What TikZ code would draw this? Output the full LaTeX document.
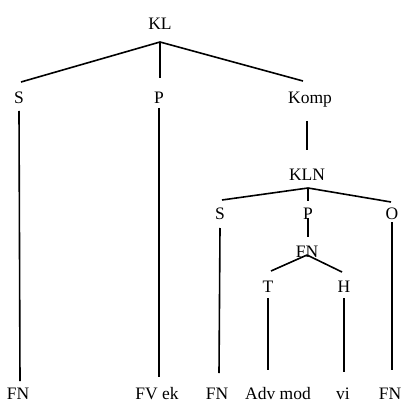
\documentclass[tikz,border=0pt]{standalone}
\usepackage{fontspec}
\setmainfont{Liberation Serif}
\begin{document}
\begin{tikzpicture}[x=1pt,y=-1pt,
  lab/.style={anchor=base,inner sep=0pt,font=\fontsize{17.5}{19}\selectfont},
  br/.style={line width=1.6pt}]
\useasboundingbox (0,0) rectangle (402,403);
% labels
\node[lab] (kl) at (160,30) {KL};
\node[lab] (s1) at (19,104) {S};
\node[lab] (p1) at (159,104) {P};
\node[lab] (komp) at (310,104) {Komp};
\node[lab] (kln) at (307,180) {KLN};
\node[lab] (s2) at (220,219) {S};
\node[lab] (p2) at (308,219) {P};
\node[lab] (o2) at (392,219) {O};
\node[lab] (fn) at (307,257) {FN};
\node[lab] (t) at (268,292) {T};
\node[lab] (h) at (344,292) {H};
\node[lab] (b1) at (18,399) {FN};
\node[lab] (b2) at (157,399) {FV ek};
\node[lab] (b3) at (217,399) {FN};
\node[lab] (b4) at (278,399) {Adv mod};
\node[lab] (b5) at (343,399) {vi};
\node[lab] (b6) at (390,399) {FN};
% branch points
\coordinate (klb) at (160,42);
\coordinate (klnb) at (308,188);
\coordinate (fnb) at (307,255);
% top level
\draw[br] (klb) -- (21,82);
\draw[br] (klb) -- (160,78);
\draw[br] (klb) -- (303,81);
\draw[br] (19,111) -- (20,381);
\draw[br] (159,108) -- (159,377);
\draw[br] (307,121) -- (307,150);
% KLN level
\draw[br] (klnb) -- (222,200);
\draw[br] (klnb) -- (308,201);
\draw[br] (klnb) -- (391,202);
\draw[br] (220,228) -- (219,373);
\draw[br] (308,218) -- (308,237);
\draw[br] (392,222) -- (392,370);
% FN level
\draw[br] (fnb) -- (271,271);
\draw[br] (fnb) -- (342,272);
\draw[br] (268,298) -- (268,370);
\draw[br] (344,298) -- (344,372);
\end{tikzpicture}
\end{document}
